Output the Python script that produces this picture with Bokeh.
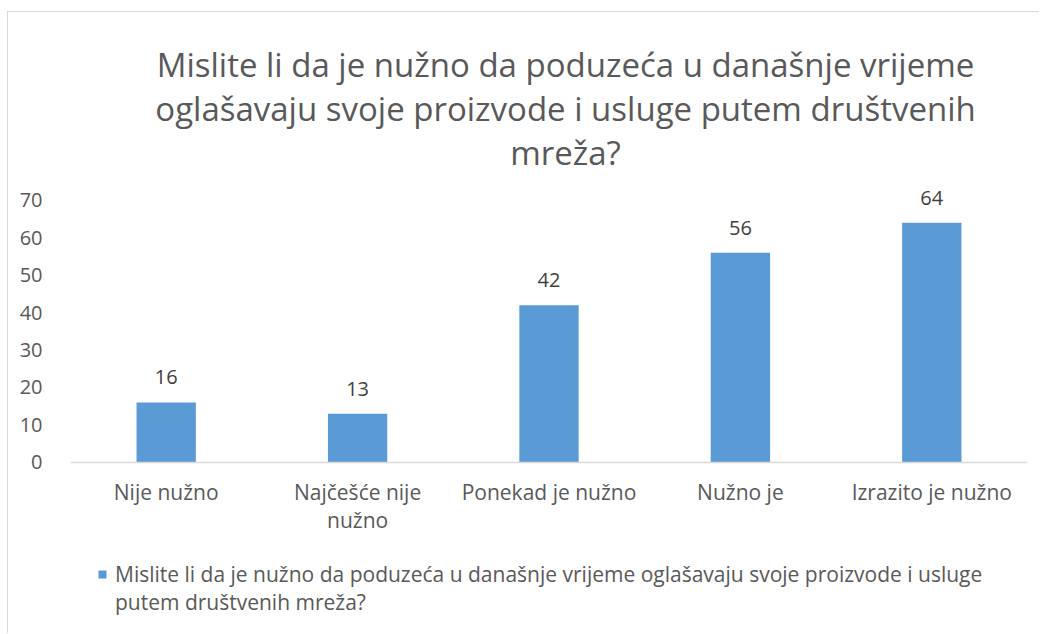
from bokeh.plotting import figure
from bokeh.models import (ColumnDataSource, Range1d, FactorRange, FixedTicker,
                          Legend, LegendItem, LabelSet, Label)
from bokeh.embed import file_html
from bokeh.resources import INLINE
from bokeh.core.properties import value

categories = ["Nije nužno", "Najčešće nije\nnužno", "Ponekad je nužno", "Nužno je", "Izrazito je nužno"]
values = [16, 13, 42, 56, 64]
y_ticks = [0, 10, 20, 30, 40, 50, 60, 70]
title_lines = ["Mislite li da je nužno da poduzeća u današnje vrijeme",
               "oglašavaju svoje proizvode i usluge putem društvenih",
               "mreža?"]
series_lines = ["Mislite li da je nužno da poduzeća u današnje vrijeme oglašavaju svoje proizvode i usluge",
                "putem društvenih mreža?"]

FONT = "Open Sans"
GREY = "#595959"
BLUE = "#5b9bd5"

src = ColumnDataSource(data=dict(cat=categories, val=values,
                                 lbl=[str(v) for v in values]))

p = figure(width=1032, height=622, x_range=FactorRange(*categories),
           y_range=Range1d(-46, 120.2), output_backend="svg", toolbar_location=None,
           min_border_left=62, min_border_right=13, min_border_top=0,
           min_border_bottom=0, title=None,
           styles={"margin-left": "7px", "margin-top": "11px",
                   "border-left": "1px solid #d9d9d9",
                   "border-top": "1px solid #d9d9d9"})
p.outline_line_color = None
p.grid.grid_line_color = None
p.x_range.range_padding = 0
p.background_fill_color = "white"
p.border_fill_color = "white"

r = p.vbar(x="cat", top="val", width=0.31, source=src, fill_color=BLUE,
           line_color=None)
# invisible companion renderer so the legend's second line has no swatch
r2 = p.vbar(x=[], top=[], width=0.31, fill_alpha=0, line_alpha=0)

labels = LabelSet(x="cat", y="val", text="lbl", source=src, text_align="center",
                  text_baseline="alphabetic", y_offset=18, text_font=value(FONT),
                  text_font_size="20px", text_color="#404040")
p.add_layout(labels)

p.yaxis.ticker = FixedTicker(ticks=y_ticks)
p.yaxis.axis_line_color = None
p.yaxis.major_tick_line_color = None
p.yaxis.minor_tick_line_color = None
p.yaxis.major_label_text_font = FONT
p.yaxis.major_label_text_font_size = "20px"
p.yaxis.major_label_text_color = GREY
p.yaxis.major_label_standoff = 22

p.xaxis.fixed_location = 0
p.xaxis.axis_line_color = "#d9d9d9"
p.xaxis.axis_line_width = 1.5
p.xaxis.major_tick_line_color = None
p.xaxis.minor_tick_line_color = None
p.xaxis.major_label_text_font = FONT
p.xaxis.major_label_text_font_size = "21px"
p.xaxis.major_label_text_color = GREY
p.xaxis.major_label_text_line_height = 1.0
p.xaxis.major_label_standoff = 10

# title lines (baselines), screen units from the frame's bottom-left
for i, t in enumerate(title_lines):
    p.add_layout(Label(x=495, y=570 - 44 * i, x_units="screen", y_units="screen",
                       text=t, text_align="center", text_baseline="alphabetic",
                       text_font=FONT, text_font_size="33px",
                       text_color=GREY))

legend = Legend(items=[LegendItem(label=series_lines[0], renderers=[r]),
                       LegendItem(label=series_lines[1], renderers=[r2])],
                location=(27, 18), orientation="vertical",
                glyph_width=10, glyph_height=10, label_standoff=8,
                label_height=25, spacing=0,
                padding=0, margin=0, border_line_color=None,
                background_fill_alpha=0,
                label_text_font=FONT, label_text_font_size="21px",
                label_text_color=GREY)
p.add_layout(legend, "center")

open("out.html", "w").write(file_html(p, INLINE))
